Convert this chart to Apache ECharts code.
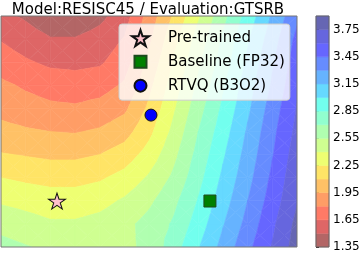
<!DOCTYPE html>
<html><head><meta charset="utf-8">
<script src="https://cdn.jsdelivr.net/npm/echarts@6/dist/echarts.min.js"></script>
<style>html,body{margin:0;padding:0;background:#fff}#c{width:363px;height:255px}</style>
</head><body><div id="c"></div>
<script>
// ---- data ----
const gridCols = [0,1,2,3,4,5,6,7,8,9,10,11,12];
const gridRows = [0,1,2,3,4,5,6,7,8,9,10];
const lossGrid = [
 [1.53,1.48,1.40,1.39,1.46,1.58,1.86,2.12,2.38,2.65,2.91,3.17,3.42],
 [1.64,1.57,1.51,1.51,1.56,1.66,1.92,2.20,2.46,2.72,2.98,3.23,3.49],
 [1.73,1.67,1.62,1.61,1.63,1.73,1.99,2.26,2.52,2.77,3.03,3.28,3.53],
 [1.83,1.78,1.74,1.72,1.74,1.82,2.06,2.32,2.58,2.83,3.08,3.32,3.57],
 [1.90,1.86,1.83,1.82,1.85,1.92,2.13,2.38,2.64,2.88,3.12,3.37,3.61],
 [2.00,1.97,1.95,1.94,1.97,2.04,2.21,2.44,2.70,2.93,3.17,3.41,3.64],
 [2.11,2.09,2.07,2.07,2.10,2.17,2.31,2.51,2.75,2.98,3.21,3.44,3.68],
 [2.25,2.22,2.20,2.20,2.23,2.30,2.42,2.58,2.80,3.03,3.25,3.48,3.71],
 [2.38,2.35,2.32,2.32,2.35,2.42,2.52,2.66,2.86,3.08,3.30,3.52,3.74],
 [2.50,2.46,2.42,2.42,2.45,2.51,2.60,2.72,2.92,3.14,3.35,3.57,3.79],
 [2.60,2.56,2.52,2.50,2.50,2.52,2.58,2.78,2.99,3.20,3.41,3.61,3.82]
];
const levels = [1.35,1.50,1.65,1.80,1.95,2.10,2.25,2.40,2.55,2.70,2.85,3.00,3.15,3.30,3.45,3.60,3.75,3.90];
const cbTicks = [1.35,1.65,1.95,2.25,2.55,2.85,3.15,3.45,3.75];
const cbTickLabels = ['1.35','1.65','1.95','2.25','2.55','2.85','3.15','3.45','3.75'];
const seriesNames = ['Pre-trained','Baseline (FP32)','RTVQ (B3O2)'];
const preTrainedPt = [[2.27, 8.01]];
const baselinePt = [[8.47, 8.01]];
const rtvqPt = [[6.08, 4.29]];
const titleText = 'Model:RESISC45 / Evaluation:GTSRB';

// ---- colours (jet_r, alpha 0.6 over white) ----
const JR=[[0,0],[0.35,0],[0.66,1],[0.89,1],[1,0.5]];
const JG=[[0,0],[0.125,0],[0.375,1],[0.64,1],[0.91,0],[1,0]];
const JB=[[0,0.5],[0.11,1],[0.34,1],[0.65,0],[1,0]];
function interp(pts,x){for(let i=0;i<pts.length-1;i++){const a=pts[i],b=pts[i+1];if(x>=a[0]&&x<=b[0])return a[1]+(b[1]-a[1])*(x-a[0])/(b[0]-a[0]);}return pts[pts.length-1][1];}
const nBands = levels.length-1;
const bandColors = [];
for(let k=0;k<nBands;k++){const x=1-k/(nBands-1);const al=0.6;const c=[JR,JG,JB].map(p=>Math.round(255*(al*interp(p,x)+1-al)));bandColors.push('rgb('+c.join(',')+')');}

function clipPoly(poly,lev,above){const out=[];for(let i=0;i<poly.length;i++){const a=poly[i],b=poly[(i+1)%poly.length];const ina=above?a[2]>=lev:a[2]<=lev;const inb=above?b[2]>=lev:b[2]<=lev;if(ina)out.push(a);if(ina!==inb){const t=(lev-a[2])/(b[2]-a[2]);out.push([a[0]+t*(b[0]-a[0]),a[1]+t*(b[1]-a[1]),lev]);}}return out;}

const cells=[];
for(let j=0;j<gridRows.length-1;j++)for(let i=0;i<gridCols.length-1;i++)cells.push([i,j]);

function renderCell(params,api){
  const i=api.value(0),j=api.value(1);
  const p00=[gridCols[i],gridRows[j],lossGrid[j][i]],p10=[gridCols[i+1],gridRows[j],lossGrid[j][i+1]],
        p11=[gridCols[i+1],gridRows[j+1],lossGrid[j+1][i+1]],p01=[gridCols[i],gridRows[j+1],lossGrid[j+1][i]];
  const cen=[(p00[0]+p10[0])/2,(p00[1]+p01[1])/2,(p00[2]+p10[2]+p11[2]+p01[2])/4];
  const tris=[[p00,p10,cen],[p10,p11,cen],[p11,p01,cen],[p01,p00,cen]];
  const children=[];
  tris.forEach(t=>{const vs=t.map(p=>p[2]);const mn=Math.min(...vs),mx=Math.max(...vs);
    for(let k=0;k<nBands;k++){const lo=levels[k],hi=levels[k+1];if(mx<lo||mn>hi)continue;
      let poly=clipPoly(t,lo,true);if(poly.length<3)continue;poly=clipPoly(poly,hi,false);if(poly.length<3)continue;
      children.push({type:'polygon',shape:{points:poly.map(p=>api.coord([p[0],p[1]]))},style:{fill:bandColors[k],stroke:bandColors[k],lineWidth:0.6}});}});
  return {type:'group',children};
}
const cbData = levels.slice(0,-1).map((lo,k)=>[k,lo,levels[k+1]]);
function renderCb(params,api){
  const k=api.value(0);const a=api.coord([0,api.value(2)]),b=api.coord([1,api.value(1)]);
  return {type:'rect',shape:{x:a[0],y:a[1],width:b[0]-a[0],height:b[1]-a[1]},style:{fill:bandColors[k],stroke:bandColors[k],lineWidth:0.5}};
}

const STAR='path://M50 0L61.23 34.55L97.55 34.55L68.17 55.9L79.39 90.45L50 69.1L20.61 90.45L31.83 55.9L2.45 34.55L38.77 34.55Z';
const SQ_PAD='path://M0 0M17 17M2.5 2.5L14.5 2.5L14.5 14.5L2.5 14.5Z';
const CI_PAD='path://M0 0M17 17M8.5 2.5A6 6 0 1 1 8.49 2.5Z';
const FONT='DejaVu Sans';

const chart=echarts.init(document.getElementById('c'),null,{renderer:'canvas'});
chart.setOption({
  animation:false,
  title:{text:titleText,left:148,top:3,textAlign:'center',padding:0,textStyle:{fontFamily:FONT,fontSize:15,fontWeight:'normal',color:'#000'}},
  grid:[{left:1,top:16,width:296,height:231},{left:316,top:16,width:13,height:231}],
  xAxis:[{gridIndex:0,type:'value',min:0,max:12,show:false},{gridIndex:1,type:'value',min:0,max:1,show:false}],
  yAxis:[{gridIndex:0,type:'value',min:0,max:10,inverse:true,show:false},
    {gridIndex:1,type:'value',min:1.35,max:3.9,position:'right',axisLine:{show:false},splitLine:{show:false},
     axisTick:{show:true,length:3,customValues:cbTicks,lineStyle:{color:'#000',width:1}},
     axisLabel:{show:true,customValues:cbTicks,margin:4,fontFamily:FONT,fontSize:12,color:'#000',
       formatter:v=>{const i=cbTicks.findIndex(t=>Math.abs(t-v)<1e-6);return i>=0?cbTickLabels[i]:'';}}}],
  legend:{orient:'vertical',left:119,top:24,padding:[5,5,5,12],itemGap:5,itemWidth:17,itemHeight:17,selectedMode:false,
    backgroundColor:'rgba(255,255,255,0.8)',borderColor:'#ccc',borderWidth:1,borderRadius:3,
    textStyle:{fontFamily:FONT,fontSize:15,lineHeight:17,color:'#000',padding:[0,0,0,14]},
    data:[{name:seriesNames[0],icon:STAR},{name:seriesNames[1],icon:SQ_PAD},{name:seriesNames[2],icon:CI_PAD}]},
  graphic:[
    {type:'rect',shape:{x:1,y:16,width:296,height:231},style:{fill:'none',stroke:'#777',lineWidth:1},z:100,silent:true},
    {type:'rect',shape:{x:316,y:16,width:13,height:231},style:{fill:'none',stroke:'#666',lineWidth:1},z:100,silent:true}
  ],
  series:[
    {type:'custom',name:'landscape',xAxisIndex:0,yAxisIndex:0,data:cells,renderItem:renderCell,silent:true,clip:true,z:1},
    {type:'custom',name:'colorbar',xAxisIndex:1,yAxisIndex:1,data:cbData,renderItem:renderCb,silent:true,z:1},
    {type:'scatter',name:seriesNames[0],data:preTrainedPt,symbol:STAR,symbolSize:[17,16],itemStyle:{color:'#ffc0cb',borderColor:'#111',borderWidth:1,opacity:1},z:5},
    {type:'scatter',name:seriesNames[1],data:baselinePt,symbol:'rect',symbolSize:12,itemStyle:{color:'#008000',borderColor:'#1d4a1d',borderWidth:1,opacity:1},z:5},
    {type:'scatter',name:seriesNames[2],data:rtvqPt,symbol:'circle',symbolSize:12,itemStyle:{color:'#0000ff',borderColor:'#111',borderWidth:1,opacity:1},z:5}
  ]
});
</script></body></html>
